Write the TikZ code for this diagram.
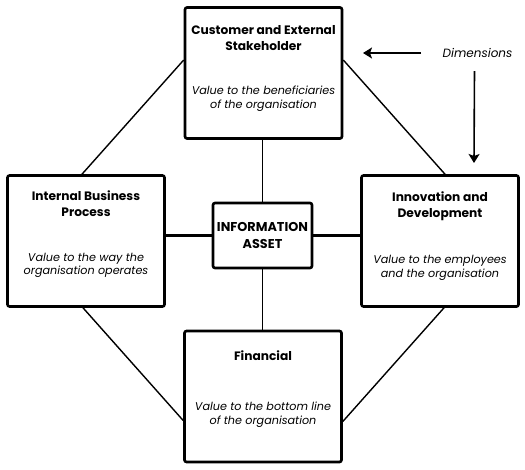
\documentclass[tikz,border=0pt]{standalone}
\usepackage{fontspec}
\setmainfont{Poppins}
\usetikzlibrary{positioning,arrows.meta}

\begin{document}
\begin{tikzpicture}[x=1pt, y=-1pt, node distance=18pt]
\tikzset{dimbox/.style={rectangle, draw, line width=2.6pt, rounded corners=2pt, minimum width=157pt, minimum height=131pt, fill=white}}
\tikzset{corebox/.style={rectangle, draw, line width=2.6pt, rounded corners=2pt, minimum width=99pt, minimum height=65pt, fill=white, align=center, inner sep=0pt, font=\fontsize{12.8}{17}\selectfont\bfseries}}
\tikzset{title/.style={align=center, inner sep=0pt, font=\fontsize{12.2}{16.5}\selectfont\bfseries}}
\tikzset{desc/.style={align=center, inner sep=0pt, font=\fontsize{11.2}{13.5}\selectfont\itshape}}
\tikzset{link/.style={line width=1.4pt}}
\tikzset{bar/.style={line width=2.8pt}}
\tikzset{arrow/.style={->, >={Stealth[length=9pt, width=11pt, inset=2pt]}, line width=1.6pt}}

\useasboundingbox (0,0) rectangle (525,469);

% the four dimensions and the asset in the middle
\node[dimbox] (cust) at (263.5,73) {};
\node[dimbox] (proc) at (86,241) {};
\node[dimbox] (innov) at (440,241) {};
\node[dimbox] (fin) at (263,396.5) {};
\node[corebox] (info) at (262.5,235.5) {INFORMATION\\ASSET};

\node[title, below=19pt of cust.north] (custtitle) {Customer and External\\Stakeholder};
\node[desc, below=35pt of custtitle] (custdesc) {Value to the beneficiaries\\of the organisation};
\node[title, below=16pt of proc.north] (proctitle) {Internal Business\\Process};
\node[desc, below=36pt of proctitle] (procdesc) {Value to the way the\\organisation operates};
\node[title, below=17pt of innov.north] (innovtitle) {Innovation and\\Development};
\node[desc, below=34pt of innovtitle] (innovdesc) {Value to the employees\\and the organisation};
\node[title, below=21pt of fin.north] (fintitle) {Financial};
\node[desc, below=41pt of fintitle] (findesc) {Value to the bottom line\\of the organisation};

% connectors
\draw[link] (info.north) -- (info.north |- cust.south);
\draw[link] (info.south) -- (info.south |- fin.north);
\draw[bar] (info.west) -- (info.west -| proc.east);
\draw[bar] (info.east) -- (info.east -| innov.west);
\draw[link] ([yshift=13pt]cust.west) -- ([xshift=-4pt]proc.north);
\draw[link] ([yshift=13pt]cust.east) -- ([xshift=5pt]innov.north);
\draw[link] ([xshift=-3pt]proc.south) -- ([yshift=-24pt]fin.west);
\draw[link] ([xshift=4pt]innov.south) -- ([yshift=-25pt]fin.east);

% label for the dimensions
\node[font=\fontsize{12}{14}\selectfont\itshape] (dim) at (477.5,53) {Dimensions};
\coordinate (dimtipa) at (363,53);
\coordinate (dimtipb) at (474,163);
\draw[arrow] ([xshift=-18pt]dim.west) -- (dimtipa);
\draw[arrow] ([xshift=-3pt,yshift=-10pt]dim.south) -- (dimtipb);
\end{tikzpicture}
\end{document}
